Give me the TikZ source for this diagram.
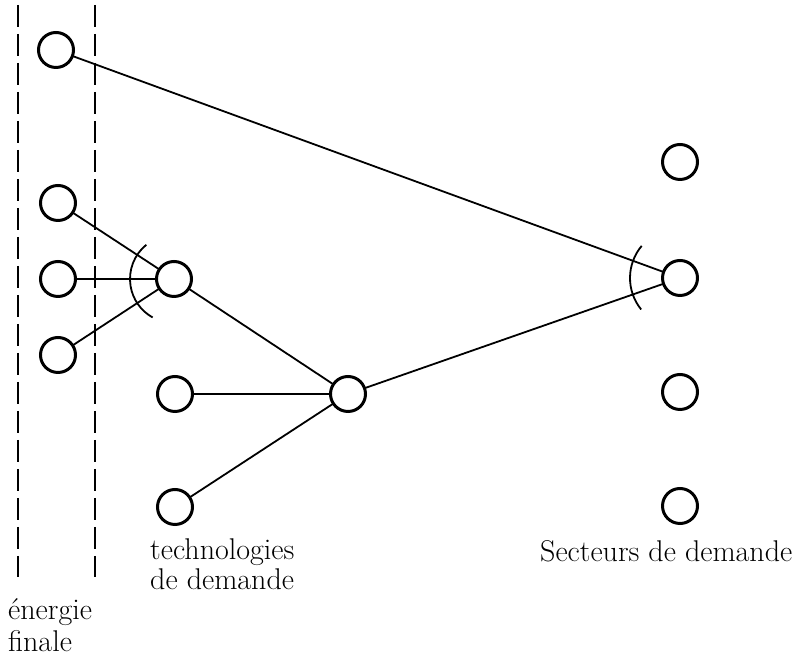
\documentclass[tikz,border=0pt]{standalone}
\begin{document}
\begin{tikzpicture}[x=1pt,y=1pt,
  unit/.style={circle,draw,line width=3pt,minimum size=35pt,inner sep=0pt,outer sep=0pt},
  link/.style={line width=1.8pt},
  bracket/.style={line width=1.8pt},
  border/.style={line width=2pt,dash pattern=on 22pt off 7pt},
  lbl/.style={anchor=base west,inner sep=0pt,font=\fontsize{30}{34}\selectfont}]
\useasboundingbox (0,0) rectangle (811,660);
% column boundaries for final energy
\coordinate (b1t) at (18,655); \coordinate (b1b) at (18,83);
\coordinate (b2t) at (95,655); \coordinate (b2b) at (95,83);
\draw[border] (b1t) -- (b1b);
\draw[border] (b2t) -- (b2b);
% final energy carriers
\node[unit] (e1) at (56,610) {};
\node[unit] (e2) at (58,457) {};
\node[unit] (e3) at (58,381) {};
\node[unit] (e4) at (58,305) {};
% demand technologies
\node[unit] (t1) at (174,381) {};
\node[unit] (t2) at (175,266) {};
\node[unit] (t3) at (175,153) {};
\node[unit] (m)  at (348,266) {};
% demand sectors
\node[unit] (s1) at (680,498) {};
\node[unit] (s2) at (680,382) {};
\node[unit] (s3) at (680,268) {};
\node[unit] (s4) at (680,154) {};
% links
\draw[link] (e1) -- (s2);
\draw[link] (e2) -- (t1);
\draw[link] (e3) -- (t1);
\draw[link] (e4) -- (t1);
\draw[link] (t1) -- (m);
\draw[link] (t2) -- (m);
\draw[link] (t3) -- (m);
\draw[link] (m) -- (s2);
% substitution brackets
\draw[bracket] ([shift={(129:44)}]t1.center) arc[start angle=129,end angle=241,radius=44];
\draw[bracket] ([shift={(140:50)}]s2.center) arc[start angle=140,end angle=219,radius=50];
% labels
\node[lbl] (l1) at (150,100) {technologies};
\node[lbl] (l2) at (150,70) {de demande};
\node[lbl] (l3) at (8,40) {énergie};
\node[lbl] (l4) at (8,8) {finale};
\node[lbl] (l5) at (540,98) {Secteurs de demande};
\end{tikzpicture}
\end{document}
